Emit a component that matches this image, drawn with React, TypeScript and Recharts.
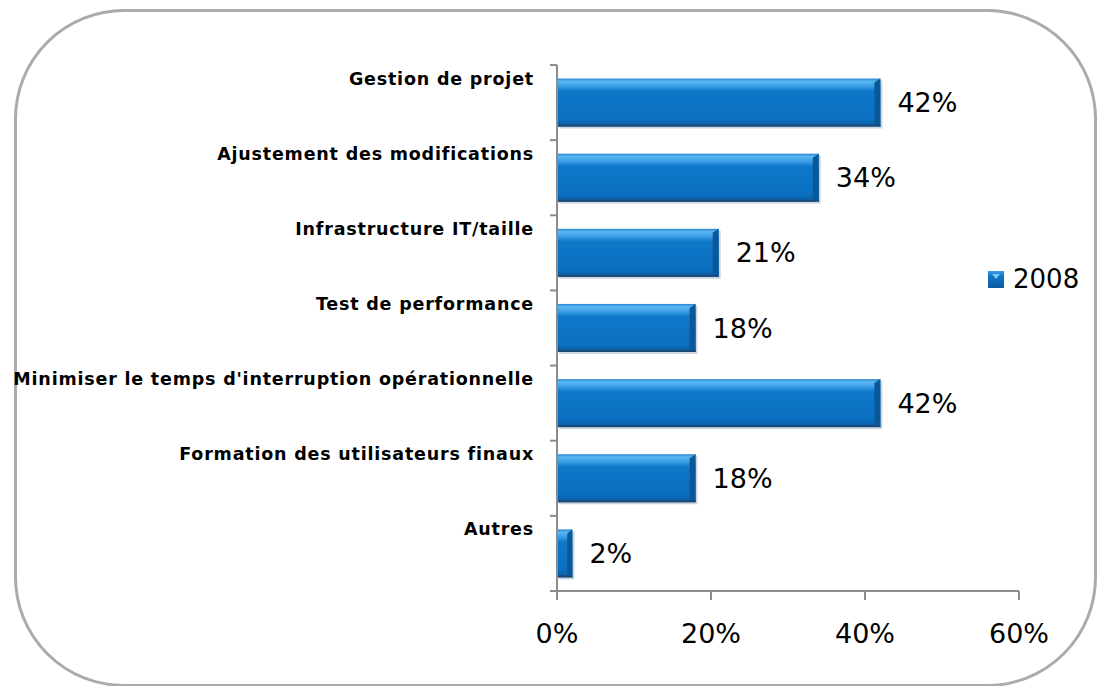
import { BarChart, Bar, XAxis, YAxis, LabelList } from "recharts";

const categories = [
  "Gestion de projet",
  "Ajustement des modifications",
  "Infrastructure IT/taille",
  "Test de performance",
  "Minimiser le temps d'interruption opérationnelle",
  "Formation des utilisateurs finaux",
  "Autres",
];
const values2008 = [42, 34, 21, 18, 42, 18, 2];
const xTicks = [0, 20, 40, 60];
const seriesName = "2008";

const data = categories.map((name, i) => ({ name, v2008: values2008[i] }));

const W = 1101;
const H = 686;
const MARGIN = { top: 65, right: 82, bottom: 55, left: 0 };
const X_AXIS_H = 40;
const Y_AXIS_W = 557;
const PLOT_H = H - MARGIN.top - MARGIN.bottom - X_AXIS_H;
const FONT = "'DejaVu Sans', Verdana, sans-serif";
const AXIS = "#8c8c8c";

function CategoryTick(props: any) {
  const { x, y, payload, index } = props;
  const half = payload?.offset > 0 ? payload.offset : PLOT_H / categories.length / 2;
  const last = index === categories.length - 1;
  return (
    <g>
      <line x1={x - 7} x2={x} y1={y - half} y2={y - half} stroke={AXIS} strokeWidth={2} />
      {last && <line x1={x - 7} x2={x} y1={y + half} y2={y + half} stroke={AXIS} strokeWidth={2} />}
      <text
        x={x - 23}
        y={y - 18}
        textAnchor="end"
        fontFamily={FONT}
        fontSize={17.5}
        fontWeight="bold"
        letterSpacing={0.8}
        fill="#000"
      >
        {payload.value}
      </text>
    </g>
  );
}

function BevelBar(props: any) {
  const { x, y, width, height } = props;
  if (!width || width <= 0) return null;
  const b = Math.min(6, width / 3);
  return (
    <g>
      <rect x={x + 2} y={y + 2} width={width} height={height} fill="#6d8aa6" opacity={0.35} />
      <rect x={x} y={y} width={width} height={height} fill="url(#barGrad)" />
      <polygon
        points={`${x + width - b},${y + 4} ${x + width},${y} ${x + width},${y + height} ${x + width - b},${y + height - 4}`}
        fill="#0a5897"
      />
      <rect x={x} y={y + height - 2} width={width} height={2} fill="#1b4a76" />
    </g>
  );
}

function LegendBox() {
  return (
    <div
      style={{
        position: "absolute",
        left: 988,
        top: 264,
        display: "flex",
        alignItems: "center",
        fontFamily: FONT,
      }}
    >
      <svg width={17} height={17} style={{ marginRight: 8 }}>
        <defs>
          <linearGradient id="legGrad" x1="0" y1="0" x2="0" y2="1">
            <stop offset="0%" stopColor="#3a9de6" />
            <stop offset="30%" stopColor="#0f78c9" />
            <stop offset="100%" stopColor="#0b5a9e" />
          </linearGradient>
        </defs>
        <rect x={0} y={0} width={16} height={17} fill="url(#legGrad)" />
        <polygon points="4,3 12,3 8,8" fill="#7cc8f6" />
      </svg>
      <span style={{ fontSize: 26, color: "#000" }}>{seriesName}</span>
    </div>
  );
}

export default function App() {
  return (
    <div
      style={{
        position: "fixed",
        left: 0,
        top: 0,
        width: W,
        height: H,
        overflow: "hidden",
        background: "#fff",
      }}
    >
      <div
        style={{
          position: "absolute",
          left: 14,
          top: 9,
          width: 1083,
          height: 678,
          border: "3px solid #ababaf",
          borderRadius: 110,
          boxSizing: "border-box",
        }}
      />
      <div style={{ position: "absolute", left: 0, top: 0 }}>
        <BarChart width={W} height={H} data={data} layout="vertical" margin={MARGIN} barCategoryGap="18%">
          <defs>
            <linearGradient id="barGrad" x1="0" y1="0" x2="0" y2="1">
              <stop offset="0%" stopColor="#2a86d2" />
              <stop offset="6%" stopColor="#5ab8f3" />
              <stop offset="16%" stopColor="#3a9de6" />
              <stop offset="26%" stopColor="#0f78c9" />
              <stop offset="85%" stopColor="#0a6fc1" />
              <stop offset="100%" stopColor="#0b5a9e" />
            </linearGradient>
          </defs>
          <XAxis
            type="number"
            domain={[0, 60]}
            ticks={xTicks}
            height={X_AXIS_H}
            tickFormatter={(v: number) => `${v}%`}
            stroke={AXIS}
            axisLine={{ stroke: AXIS, strokeWidth: 2 }}
            tickLine={{ stroke: AXIS, strokeWidth: 2 }}
            tickSize={9}
            tickMargin={24}
            tick={{ fill: "#000", fontSize: 27, fontFamily: FONT }}
          />
          <YAxis
            type="category"
            dataKey="name"
            width={Y_AXIS_W}
            axisLine={{ stroke: AXIS, strokeWidth: 2 }}
            tickLine={false}
            tickSize={0}
            tickMargin={0}
            tick={<CategoryTick />}
            interval={0}
          />
          <Bar dataKey="v2008" name={seriesName} shape={<BevelBar />} isAnimationActive={false}>
            <LabelList
              dataKey="v2008"
              position="right"
              offset={17}
              formatter={(v: any) => `${v}%`}
              fill="#000"
              fontSize={27}
              fontFamily={FONT}
            />
          </Bar>
        </BarChart>
      </div>
      <LegendBox />
    </div>
  );
}
